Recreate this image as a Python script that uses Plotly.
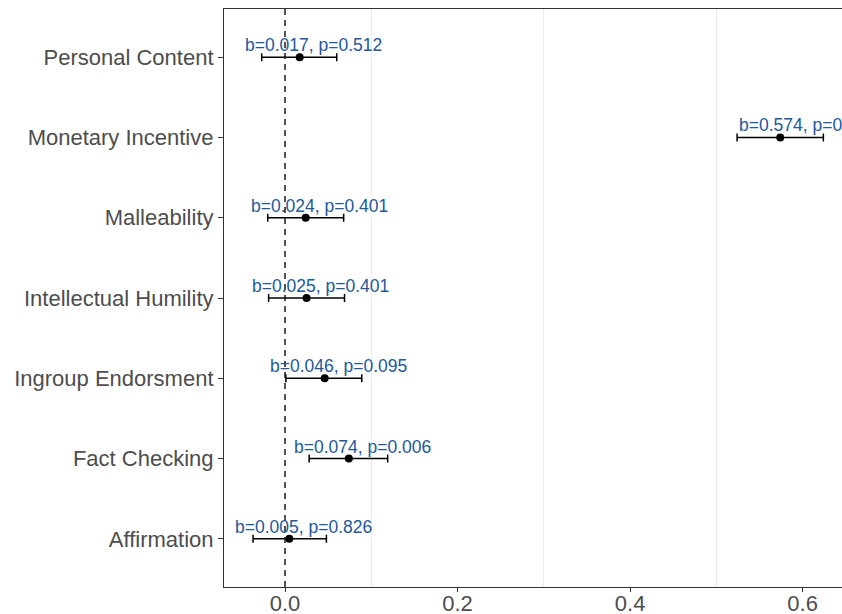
import plotly.graph_objects as go

categories = ["Affirmation", "Fact Checking", "Ingroup Endorsment", "Intellectual Humility",
              "Malleability", "Monetary Incentive", "Personal Content"]
estimates = [0.005, 0.074, 0.046, 0.025, 0.024, 0.574, 0.017]
ci_lower = [-0.037, 0.028, 0.001, -0.019, -0.020, 0.524, -0.027]
ci_upper = [0.048, 0.119, 0.089, 0.069, 0.068, 0.624, 0.060]
labels = ["b=0.005, p=0.826", "b=0.074, p=0.006", "b=0.046, p=0.095", "b=0.025, p=0.401",
          "b=0.024, p=0.401", "b=0.574, p=0", "b=0.017, p=0.512"]
x_ticks = [0.0, 0.2, 0.4, 0.6]
x_tick_labels = ["0.0", "0.2", "0.4", "0.6"]

FONT = "Liberation Sans, Arial, sans-serif"
LABEL_SIZE = 17.5
HJUST = 0.4  # label anchored 40% from its left edge (ggplot hjust)

# approximate Arial glyph widths (em) to emulate hjust
_W = {".": 0.278, ",": 0.278, " ": 0.278, "=": 0.584}


def text_width(s, size):
    return sum(_W.get(c, 0.556) for c in s) * size


err_plus = [u - e for u, e in zip(ci_upper, estimates)]
err_minus = [e - l for e, l in zip(estimates, ci_lower)]

fig = go.Figure()
fig.add_vline(x=0, line=dict(color="#1A1A1A", width=1.5, dash="6px,5px"), layer="above")

fig.add_trace(go.Scatter(
    x=estimates, y=categories, mode="markers",
    marker=dict(color="black", size=8),
    error_x=dict(type="data", symmetric=False, array=err_plus, arrayminus=err_minus,
                 color="black", thickness=1.5, width=4),
    showlegend=False, hoverinfo="skip", cliponaxis=False,
))

for est, cat, lab in zip(estimates, categories, labels):
    shift = (0.5 - HJUST) * text_width(lab, LABEL_SIZE)
    fig.add_annotation(x=est, y=cat, text=lab, showarrow=False, xanchor="center",
                       yanchor="bottom", xshift=shift, yshift=0,
                       font=dict(family=FONT, size=LABEL_SIZE, color="#21599B"))

fig.update_layout(
    width=842, height=614,
    margin=dict(l=224, r=0, t=9, b=27, pad=0),
    paper_bgcolor="white", plot_bgcolor="white",
    font=dict(family=FONT),
)
fig.update_xaxes(
    range=[-0.0707, 0.6456], tickvals=x_ticks, ticktext=x_tick_labels,
    showgrid=False, zeroline=False, automargin=False,
    minor=dict(tickmode="linear", dtick=0.2, tick0=0.1, showgrid=True,
               gridcolor="#EBEBEB", gridwidth=1, ticks=""),
    showline=True, linecolor="#333333", linewidth=1.2, mirror=True,
    ticks="outside", ticklen=4, tickcolor="#333333", tickwidth=1,
    ticklabelstandoff=-8,
    tickfont=dict(family=FONT, size=22, color="#4D4D4D"),
)
fig.update_yaxes(
    type="category", categoryorder="array", categoryarray=categories,
    range=[-0.6, 6.6], showgrid=False, zeroline=False, automargin=False,
    showline=True, linecolor="#333333", linewidth=1.2,
    ticks="outside", ticklen=5, tickcolor="#333333", tickwidth=1,
    tickfont=dict(family=FONT, size=22, color="#4D4D4D"),
)

fig.write_html("out.html")
